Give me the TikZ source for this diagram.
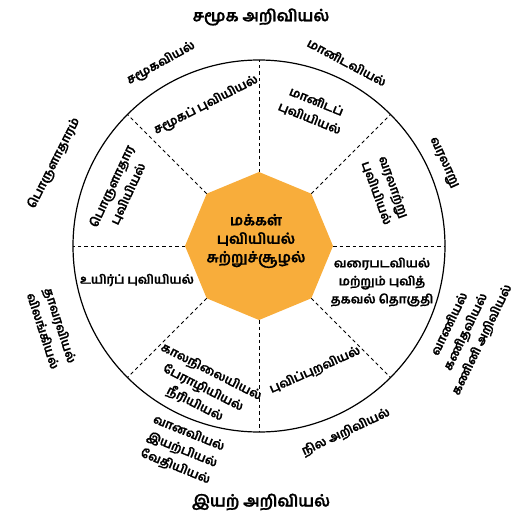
\documentclass[tikz,border=0pt]{standalone}
\usepackage{fontspec}
\newfontfamily\tamil[Script=Tamil,FakeBold=0.9]{Hind Madurai}
\definecolor{hubfill}{RGB}{248,173,59}
\begin{document}
\begin{tikzpicture}[x=1pt,y=-1pt,
  lbl/.style={font=\tamil\bfseries\fontsize{12.3}{18}\selectfont,align=center,inner sep=0pt},
  outer/.style={font=\tamil\bfseries\fontsize{12.3}{18}\selectfont,align=center,inner sep=0pt},
  title/.style={font=\tamil\bfseries\fontsize{16}{18}\selectfont,inner sep=0pt},
  hubtext/.style={font=\tamil\bfseries\fontsize{14.5}{18.5}\selectfont,align=center,inner sep=0pt},
  spoke/.style={dashed,dash pattern=on 3.5pt off 3pt,line width=0.8pt},
  rim/.style={line width=1.2pt}]
\useasboundingbox (0,0) rectangle (523,517);
\coordinate (C) at (259,246);
% octagon vertices
\coordinate (v0) at (333,246);
\coordinate (v1) at (311.3,193.7);
\coordinate (v2) at (259,172);
\coordinate (v3) at (206.7,193.7);
\coordinate (v4) at (185,246);
\coordinate (v5) at (206.7,298.3);
\coordinate (v6) at (259,320);
\coordinate (v7) at (311.3,298.3);
% rim points
\coordinate (r0) at (445,246);
\coordinate (r1) at (390.5,114.5);
\coordinate (r2) at (259,60);
\coordinate (r3) at (127.5,114.5);
\coordinate (r4) at (73,246);
\coordinate (r5) at (127.5,377.5);
\coordinate (r6) at (259,432);
\coordinate (r7) at (390.5,377.5);
\draw[rim] (C) circle[radius=186];
\fill[hubfill] (v0) -- (v1) -- (v2) -- (v3) -- (v4) -- (v5) -- (v6) -- (v7) -- cycle;
\foreach \i in {0,...,7} {\draw[spoke] (v\i) -- (r\i);}
\node[hubtext] (hub) at (256,241) {மக்கள்\\புவியியல்\\சுற்றுச்சூழல்};
% titles
\node[title] (t1) at (261,17) {சமூக அறிவியல்};
\node[title] (t2) at (261,502) {இயற் அறிவியல்};
% inner labels
\node[lbl,rotate=27] (i1) at (206,105) {சமூகப் புவியியல்};
\node[lbl,rotate=-22] (i2) at (313,110) {மானிடப்\\புவியியல்};
\node[lbl,rotate=-70] (i3) at (385,190) {வரலாற்று\\புவியியல்};
\node[lbl] (i4) at (382,282) {வரைபடவியல்\\மற்றும் புவித்\\தகவல் தொகுதி};
\node[lbl,rotate=24] (i5) at (315,370) {புவிப்புறவியல்};
\node[lbl,rotate=-27] (i6) at (203,388) {காலநிலையியல்\\பேராழியியல்\\நீரியியல்};
\node[lbl] (i7) at (137,280) {உயிர்ப் புவியியல்};
\node[lbl,rotate=65] (i8) at (120,190) {பொருளாதார\\புவியியல்};
% outer labels
\node[outer,rotate=29] (o1) at (161,63) {சமூகவியல்};
\node[outer,rotate=-28] (o2) at (347,62) {மானிடவியல்};
\node[outer,rotate=-65] (o3) at (443,163) {வரலாறு};
\node[outer,rotate=64] (o4) at (466,332) {வாணியல்\\கணிதவியல்\\கணினி அறிவியல்};
\node[outer,rotate=25] (o5) at (346,432) {நில அறிவியல்};
\node[outer,rotate=-22] (o6) at (182,450) {வானவியல்\\இயற்பியல்\\வேதியியல்};
\node[outer,rotate=-72] (o7) at (52,328) {தாவரவியல்\\விலங்கியல்};
\node[outer,rotate=63] (o8) at (54,163) {பொருளாதாரம்};
\end{tikzpicture}
\end{document}
